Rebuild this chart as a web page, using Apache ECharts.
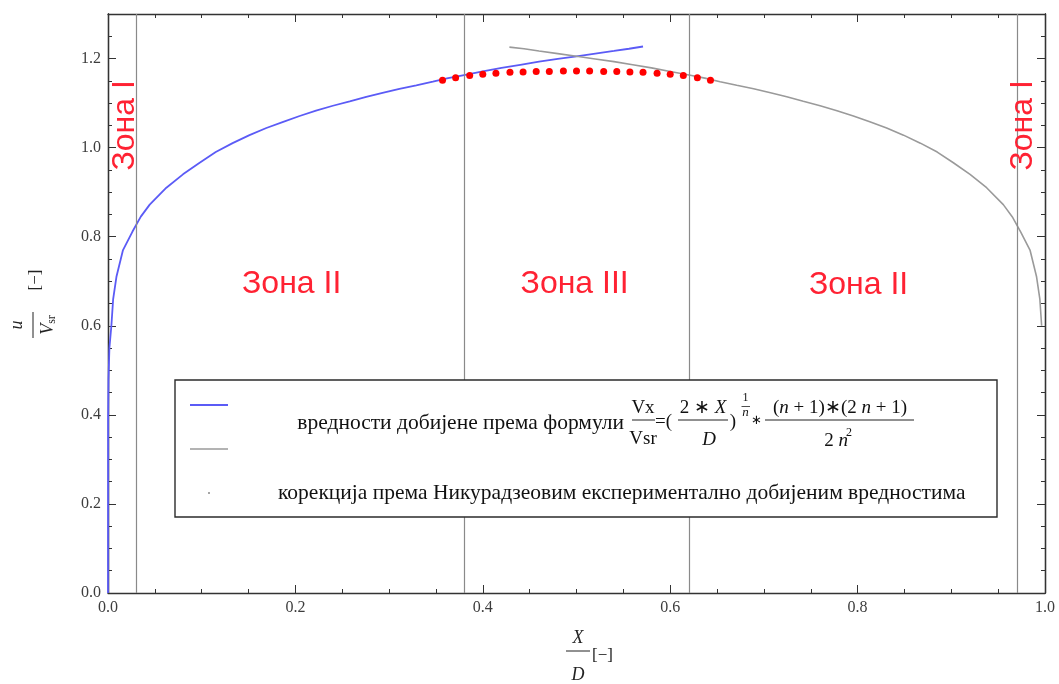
<!DOCTYPE html>
<html>
<head>
<meta charset="utf-8">
<script src="https://cdn.jsdelivr.net/npm/echarts@6/dist/echarts.min.js"></script>
<style>
  html, body { margin: 0; padding: 0; background: #ffffff; }
  #chart { width: 1059px; height: 684px; }
</style>
</head>
<body>
<div id="chart"></div>
<script>
// Velocity profile u/Vsr across the pipe diameter, X/D measured wall to wall.

const xTickLabels = ['0.0', '0.2', '0.4', '0.6', '0.8', '1.0'];
const yTickLabels = ['0.0', '0.2', '0.4', '0.6', '0.8', '1.0', '1.2'];

// Power-law profile, computed from the near wall (X/D = 0)
const profileNearWall = [
  [0, 0], [0.0001, 0.39], [0.0005, 0.48], [0.0015, 0.55], [0.0036, 0.60],
  [0.0055, 0.66], [0.009, 0.71], [0.016, 0.77], [0.026, 0.811], [0.035, 0.845],
  [0.0445, 0.872], [0.0623, 0.91], [0.08, 0.94], [0.0978, 0.966], [0.115, 0.99],
  [0.133, 1.010], [0.151, 1.028], [0.169, 1.044], [0.187, 1.058], [0.2045, 1.071],
  [0.222, 1.083], [0.24, 1.094], [0.258, 1.104], [0.2756, 1.114], [0.293, 1.123],
  [0.311, 1.132], [0.329, 1.140], [0.3467, 1.148], [0.363, 1.156], [0.38, 1.163],
  [0.40, 1.171], [0.42, 1.179], [0.44, 1.186], [0.46, 1.193], [0.48, 1.199],
  [0.50, 1.205], [0.52, 1.211], [0.54, 1.217], [0.556, 1.222], [0.571, 1.227]
];

// Same profile, computed from the far wall (X/D = 1)
const profileFarWall = [
  [0.4284, 1.2256], [0.444, 1.222], [0.46, 1.217], [0.48, 1.211], [0.50, 1.205],
  [0.52, 1.199], [0.54, 1.193], [0.56, 1.186], [0.58, 1.179], [0.60, 1.171],
  [0.62, 1.163], [0.637, 1.156], [0.6533, 1.148], [0.671, 1.140], [0.689, 1.132],
  [0.707, 1.123], [0.7244, 1.114], [0.742, 1.104], [0.76, 1.094], [0.778, 1.083],
  [0.7955, 1.071], [0.813, 1.058], [0.831, 1.044], [0.849, 1.028], [0.867, 1.010],
  [0.885, 0.99], [0.9022, 0.966], [0.92, 0.94], [0.9377, 0.91], [0.9555, 0.872],
  [0.965, 0.845], [0.974, 0.811], [0.984, 0.77], [0.991, 0.71], [0.9945, 0.66],
  [0.9964, 0.60]
];

// Core correction after Nikuradse's measurements
const nikuradseX = [0.357, 0.371, 0.386, 0.400, 0.414, 0.429, 0.443, 0.457, 0.471, 0.486,
                    0.500, 0.514, 0.529, 0.543, 0.557, 0.571, 0.586, 0.600, 0.614, 0.629, 0.643];
const nikuradseY = [1.151, 1.157, 1.162, 1.165, 1.167, 1.169, 1.170, 1.171, 1.171, 1.172,
                    1.172, 1.172, 1.171, 1.171, 1.170, 1.169, 1.167, 1.165, 1.162, 1.157, 1.151];

// Zone boundaries along X/D
const zoneBounds = [0.026, 0.38, 0.62, 0.975];
const zoneNames = ['Зона I', 'Зона II', 'Зона III', 'Зона II', 'Зона I'];

const legendText1 = 'вредности добијене према формули';
const legendText2 = 'корекција према Никурадзеовим експериментално добијеним вредностима';

const SERIF = '"Liberation Serif", "Times New Roman", serif';
const SANS = '"Liberation Sans", Arial, sans-serif';
const AXIS_COLOR = '#333333';
const LABEL_COLOR = '#3d3d3d';
const ZONE_RED = '#ff2233';

const fmt = (list) => (v) => {
  const s = v.toFixed(1);
  return list.indexOf(s) >= 0 && Math.abs(v * 5 - Math.round(v * 5)) < 1e-6 ? s : '';
};

function xAxisDef(pos, withLabels) {
  return {
    type: 'value', position: pos, min: 0, max: 1, interval: 0.2,
    axisLine: { show: true, onZero: false, lineStyle: { color: AXIS_COLOR, width: 1.3 } },
    axisTick: { show: true, inside: true, length: 8, lineStyle: { color: AXIS_COLOR, width: 1 } },
    minorTick: { show: true, splitNumber: 4, length: 4, lineStyle: { color: AXIS_COLOR, width: 1 } },
    splitLine: { show: false }, minorSplitLine: { show: false },
    axisLabel: {
      show: withLabels, margin: 7, color: LABEL_COLOR, fontFamily: SERIF, fontSize: 16,
      formatter: fmt(xTickLabels)
    }
  };
}

function yAxisDef(pos, interval, tickLen, withLabels) {
  return {
    type: 'value', position: pos, min: 0, max: 1.3, interval: interval,
    axisLine: { show: true, onZero: false, lineStyle: { color: AXIS_COLOR, width: 1.3 } },
    axisTick: { show: true, inside: true, length: tickLen, lineStyle: { color: AXIS_COLOR, width: 1 } },
    splitLine: { show: false },
    axisLabel: {
      show: withLabels, margin: 7, color: LABEL_COLOR, fontFamily: SERIF, fontSize: 16,
      showMaxLabel: false, formatter: fmt(yTickLabels)
    }
  };
}

const chart = echarts.init(document.getElementById('chart'), null, { renderer: 'canvas' });

// Legend box and formula, laid out in pixels
const LEG = { x: 175, y: 380, w: 822, h: 137 };
const fText = (text, x, y, size, opts) => Object.assign({
  type: 'text', x: x, y: y, z: 21,
  style: Object.assign({ text: text, fill: '#111', font: size + 'px ' + SERIF,
                         align: 'center', verticalAlign: 'middle' }, (opts && opts.style) || {})
}, (opts && opts.el) || {});
const fLine = (x1, x2, y, w) => ({
  type: 'line', z: 21, shape: { x1: x1, y1: y, x2: x2, y2: y },
  style: { stroke: '#222', lineWidth: w || 1 }
});
const italic = (size) => 'italic ' + size + 'px ' + SERIF;
const richMath = (size) => ({
  a: { font: size + 'px ' + SERIF, fill: '#111' },
  b: { font: italic(size), fill: '#111' }
});

const legendGraphic = [
  { type: 'rect', z: 20, shape: { x: LEG.x, y: LEG.y, width: LEG.w, height: LEG.h },
    style: { fill: '#ffffff', stroke: '#2b2b2b', lineWidth: 1.4 } },
  { type: 'line', z: 21, shape: { x1: 190, y1: 405, x2: 228, y2: 405 },
    style: { stroke: '#5b5bf6', lineWidth: 2 } },
  { type: 'line', z: 21, shape: { x1: 190, y1: 449, x2: 228, y2: 449 },
    style: { stroke: '#9a9a9a', lineWidth: 1.6 } },
  { type: 'circle', z: 21, shape: { cx: 209, cy: 493, r: 1 }, style: { fill: '#888' } },
  fText(legendText1, 624, 423, 21.5, { style: { align: 'right' } }),
  fText(legendText2, 278, 493, 21.5, { style: { align: 'left' } }),
  // Vx / Vsr
  fText('Vx', 643, 408, 19),
  fLine(632, 655, 420),
  fText('Vsr', 643, 439, 19),
  fText('=(', 655, 422, 19, { style: { align: 'left' } }),
  // 2*X / D
  fText('{a|2 ∗ }{b|X}', 703, 408, 19, { style: { rich: richMath(19) } }),
  fLine(678, 728, 420),
  fText('D', 709, 440, 19, { style: { font: italic(19) } }),
  fText(')', 733, 422, 19),
  // exponent 1/n
  fText('1', 745.5, 398, 12),
  fLine(741.5, 750, 406.5, 0.8),
  fText('n', 745.5, 413, 13, { style: { font: italic(13) } }),
  fText('∗', 756, 421, 13),
  // (n+1)(2n+1) / 2n^2
  fText('{a|(}{b|n}{a| + 1)∗(2 }{b|n}{a| + 1)}', 840, 408, 19, { style: { rich: richMath(19) } }),
  fLine(765, 914, 420),
  fText('{a|2 }{b|n}', 836, 441, 19, { style: { rich: richMath(19) } }),
  fText('2', 846, 433, 12, { style: { align: 'left' } })
];

// Axis titles
const axisTitleGraphic = [
  {
    type: 'group', x: 33, y: 325, rotation: Math.PI / 2, z: 21,
    children: [
      { type: 'text', x: 0, y: -16, style: { text: 'u', font: italic(18), fill: '#222',
        align: 'center', verticalAlign: 'middle' } },
      { type: 'line', shape: { x1: -13, y1: 0, x2: 13, y2: 0 }, style: { stroke: '#222', lineWidth: 1 } },
      { type: 'text', x: 0, y: 15, style: {
        text: '{v|V}{s|sr}', align: 'center', verticalAlign: 'middle',
        rich: { v: { font: italic(18), fill: '#222' },
                s: { font: '12px ' + SERIF, fill: '#222', verticalAlign: 'bottom', padding: [8, 0, 0, 0] } } } },
      { type: 'text', x: 45, y: 3, style: { text: '[−]', font: '17px ' + SERIF, fill: '#222',
        align: 'center', verticalAlign: 'middle' } }
    ]
  },
  { type: 'text', x: 578, y: 638, z: 21, style: { text: 'X', font: italic(18), fill: '#222',
    align: 'center', verticalAlign: 'middle' } },
  { type: 'line', z: 21, shape: { x1: 566, y1: 651, x2: 590, y2: 651 }, style: { stroke: '#222', lineWidth: 1 } },
  { type: 'text', x: 578, y: 675, z: 21, style: { text: 'D', font: italic(18), fill: '#222',
    align: 'center', verticalAlign: 'middle' } },
  { type: 'text', x: 592, y: 656, z: 21, style: { text: '[−]', font: '17px ' + SERIF, fill: '#222',
    align: 'left', verticalAlign: 'middle' } }
];

const option = {
  backgroundColor: '#ffffff',
  animation: false,
  grid: { left: 108, right: 14, top: 14, bottom: 91, containLabel: false },
  xAxis: [xAxisDef('bottom', true), xAxisDef('top', false)],
  yAxis: [
    yAxisDef('left', 0.2, 8, true),
    yAxisDef('left', 0.05, 4, false),
    yAxisDef('right', 0.2, 8, false),
    yAxisDef('right', 0.05, 4, false)
  ],
  series: [
    {
      name: 'zoneBounds', type: 'line', data: [], silent: true,
      markLine: {
        silent: true, symbol: ['none', 'none'], label: { show: false },
        lineStyle: { color: '#8a8a8a', width: 1.2, type: 'solid' },
        data: zoneBounds.map(v => ({ xAxis: v }))
      }
    },
    {
      name: 'profileNearWall', type: 'line', data: profileNearWall,
      showSymbol: false, smooth: false, z: 3,
      lineStyle: { color: '#5b5bf6', width: 1.8 }
    },
    {
      name: 'profileFarWall', type: 'line', data: profileFarWall,
      showSymbol: false, smooth: false, z: 3,
      lineStyle: { color: '#9a9a9a', width: 1.6 }
    },
    {
      name: 'nikuradse', type: 'scatter', z: 4,
      data: nikuradseX.map((x, i) => [x, nikuradseY[i]]),
      symbol: 'circle', symbolSize: 7, itemStyle: { color: '#ff0000', opacity: 1 }
    },
    {
      name: 'zoneLabels', type: 'scatter', z: 5, silent: true, symbolSize: 0,
      itemStyle: { opacity: 1 },
      data: [
        { value: [0.018, 1.05], label: { rotate: 90 } },
        { value: [0.196, 0.693] },
        { value: [0.498, 0.693] },
        { value: [0.801, 0.691] },
        { value: [0.977, 1.05], label: { rotate: 90 } }
      ].map((d, i) => Object.assign(d, { name: zoneNames[i] })),
      label: {
        show: true, position: 'inside', formatter: '{b}', opacity: 1,
        color: ZONE_RED, fontFamily: SANS, fontSize: 32
      }
    }
  ],
  graphic: legendGraphic.concat(axisTitleGraphic)
};

chart.setOption(option);
</script>
</body>
</html>
